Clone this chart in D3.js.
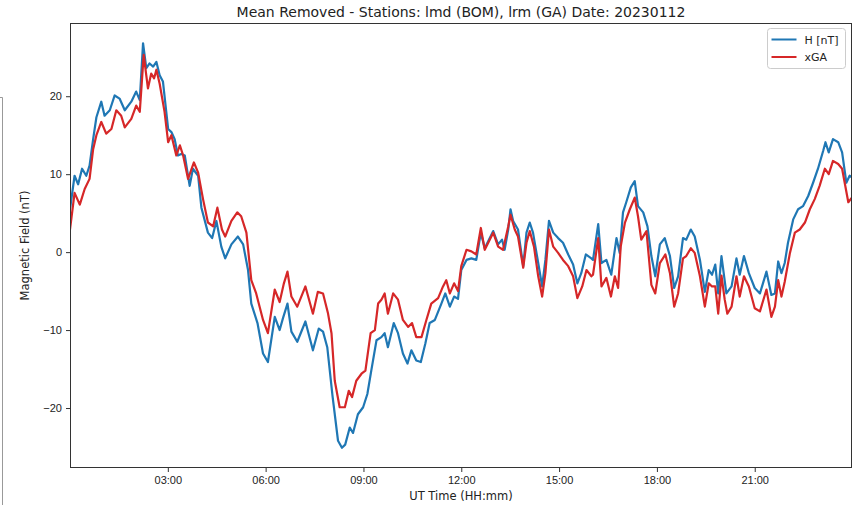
<!DOCTYPE html>
<html>
<head>
<meta charset="utf-8">
<script src="https://cdn.jsdelivr.net/npm/d3@7"></script>
<style>
  body { margin: 0; background: #fff; }
  svg { display: block; font-family: "DejaVu Sans", sans-serif; }
  .axis text { font-size: 11px; fill: #222; }
  .axis path, .axis line { stroke: #333; }
</style>
</head>
<body>
<svg id="chart" width="854" height="505"></svg>
<script>
// hours after 00:00 UT
const hTimes = [0.00, 0.14, 0.25, 0.37, 0.50, 0.60, 0.71, 0.81, 0.96, 1.06, 1.22, 1.37, 1.52, 1.68, 1.88, 2.03, 2.14, 2.24, 2.34, 2.44,
  2.55, 2.65, 2.75, 2.85, 3.01, 3.11, 3.21, 3.31, 3.41, 3.52, 3.67, 3.77, 3.93, 4.03, 4.23, 4.36, 4.49, 4.64, 4.76, 4.95,
  5.15, 5.31, 5.46, 5.56, 5.75, 5.92, 6.07, 6.28, 6.43, 6.53, 6.67, 6.79, 6.97, 7.22, 7.45, 7.63, 7.76, 7.89, 8.05, 8.22,
  8.34, 8.44, 8.58, 8.68, 8.83, 8.99, 9.12, 9.24, 9.40, 9.55, 9.65, 9.75, 9.93, 10.06, 10.21, 10.35, 10.47, 10.62, 10.76, 10.90,
  11.03, 11.19, 11.39, 11.51, 11.65, 11.78, 11.90, 12.00, 12.16, 12.31, 12.46, 12.60, 12.72, 12.98, 13.13, 13.25, 13.33, 13.44, 13.51, 13.59,
  13.74, 13.90, 14.00, 14.10, 14.20, 14.36, 14.48, 14.58, 14.69, 14.82, 14.97, 15.12, 15.28, 15.43, 15.56, 15.68, 15.82, 15.99, 16.04, 16.20,
  16.30, 16.45, 16.60, 16.76, 16.86, 16.96, 17.06, 17.20, 17.32, 17.42, 17.58, 17.71, 17.83, 17.95, 18.09, 18.24, 18.40, 18.53, 18.65, 18.80,
  18.90, 19.04, 19.16, 19.32, 19.47, 19.59, 19.69, 19.79, 19.88, 19.98, 20.13, 20.29, 20.44, 20.54, 20.67, 20.82, 21.00, 21.16, 21.36, 21.51,
  21.62, 21.72, 21.82, 21.92, 22.02, 22.18, 22.33, 22.48, 22.64, 22.79, 22.94, 23.10, 23.17, 23.27, 23.40, 23.56, 23.68, 23.81, 23.91, 23.98];
const hValues = [5.5, 9.8, 8.7, 10.7, 9.8, 11.1, 14.5, 17.3, 19.3, 17.5, 18.2, 20.1, 19.7, 18.2, 19.3, 20.6, 19.5, 26.8, 23.6, 24.2,
  23.8, 24.4, 22.7, 21.9, 15.8, 15.4, 14.5, 12.4, 12.6, 12.4, 8.5, 10.7, 9.8, 5.7, 2.5, 1.8, 4.0, 0.7, -0.8, 1.0,
  2.0, 1.0, -2.3, -6.6, -9.1, -13.0, -14.1, -8.3, -10.0, -8.5, -6.6, -10.2, -11.5, -8.9, -12.6, -9.8, -10.2, -12.2, -18.4, -24.2,
  -25.1, -24.7, -22.5, -23.2, -20.8, -19.9, -18.2, -15.2, -11.3, -10.9, -10.4, -12.2, -9.1, -10.4, -13.0, -14.3, -12.6, -13.9, -14.1, -11.7,
  -9.1, -8.7, -6.6, -5.3, -7.0, -5.7, -6.0, -2.3, -1.0, -0.8, -1.0, 2.5, 0.5, 2.7, 1.0, 1.6, 0.3, 2.9, 5.5, 4.0,
  2.9, -1.8, 2.5, 3.8, 2.5, -1.4, -4.4, -1.0, 4.0, 2.5, 1.8, 1.2, -0.3, -1.6, -4.0, -2.7, -0.3, -0.8, -1.0, 3.6,
  -1.4, -1.0, -2.9, 1.8, -0.1, 5.1, 6.4, 8.3, 9.1, 5.9, 5.1, 3.3, -0.5, -3.1, 1.0, 1.8, -0.5, -4.6, -3.1, 1.8,
  1.6, 2.9, 2.0, -1.0, -5.1, -2.3, -2.9, -1.6, -5.3, -0.5, -5.3, -4.4, -0.8, -2.9, -0.5, -2.7, -4.6, -5.3, -2.5, -5.5,
  -5.3, -1.2, -2.7, -1.4, 1.2, 4.2, 5.5, 5.9, 7.2, 8.9, 10.7, 13.0, 14.1, 12.8, 14.5, 14.1, 12.8, 8.9, 9.8, 9.6];

const gaTimes = [0.00, 0.14, 0.30, 0.45, 0.60, 0.71, 0.81, 0.96, 1.11, 1.27, 1.42, 1.57, 1.68, 1.88, 2.03, 2.14, 2.26, 2.39, 2.49, 2.58,
  2.65, 2.75, 2.90, 3.01, 3.11, 3.26, 3.37, 3.47, 3.62, 3.80, 3.93, 4.08, 4.23, 4.39, 4.52, 4.66, 4.76, 4.95, 5.13, 5.25,
  5.41, 5.56, 5.71, 5.92, 6.07, 6.28, 6.43, 6.56, 6.67, 6.79, 6.97, 7.22, 7.45, 7.60, 7.76, 7.91, 8.02, 8.12, 8.27, 8.43,
  8.55, 8.65, 8.78, 8.94, 9.06, 9.22, 9.35, 9.45, 9.55, 9.65, 9.75, 9.91, 10.06, 10.21, 10.37, 10.49, 10.62, 10.78, 10.93, 11.08,
  11.29, 11.44, 11.54, 11.65, 11.78, 11.90, 12.00, 12.16, 12.31, 12.46, 12.60, 12.72, 12.98, 13.13, 13.28, 13.44, 13.51, 13.64, 13.74, 13.90,
  14.00, 14.10, 14.23, 14.36, 14.48, 14.58, 14.69, 14.82, 14.97, 15.12, 15.28, 15.43, 15.56, 15.71, 15.84, 15.99, 16.04, 16.20, 16.30, 16.45,
  16.59, 16.71, 16.81, 16.89, 17.02, 17.17, 17.32, 17.42, 17.52, 17.68, 17.83, 17.95, 18.09, 18.26, 18.40, 18.53, 18.65, 18.80, 18.90, 19.04,
  19.16, 19.32, 19.47, 19.59, 19.69, 19.79, 19.88, 19.98, 20.08, 20.16, 20.29, 20.44, 20.54, 20.67, 20.82, 21.00, 21.16, 21.36, 21.51, 21.62,
  21.72, 21.82, 21.92, 22.08, 22.23, 22.38, 22.54, 22.69, 22.84, 22.99, 23.15, 23.27, 23.40, 23.56, 23.68, 23.87, 23.98];
const gaValues = [2.9, 7.6, 6.1, 8.1, 9.4, 13.2, 15.0, 16.7, 15.2, 15.8, 18.2, 17.5, 16.0, 17.1, 18.8, 18.0, 25.3, 21.0, 22.9, 22.3,
  23.4, 21.6, 18.0, 14.1, 15.0, 12.4, 13.7, 12.4, 9.4, 11.5, 10.2, 6.8, 3.8, 3.3, 5.7, 2.9, 2.0, 4.0, 5.1, 4.6,
  2.5, -3.6, -5.3, -8.7, -10.4, -4.8, -6.4, -4.0, -2.5, -5.7, -7.0, -4.4, -7.9, -5.1, -5.3, -7.8, -10.4, -16.5, -19.9, -19.9,
  -17.8, -18.6, -16.5, -15.6, -15.2, -10.4, -10.0, -6.6, -6.1, -5.3, -7.9, -5.3, -6.1, -8.7, -9.6, -9.1, -10.9, -10.9, -8.7, -6.6,
  -5.9, -4.4, -3.6, -5.3, -4.0, -5.0, -1.8, 0.3, 0.1, -0.3, 3.1, 0.3, 2.5, 0.7, 0.3, 3.3, 4.8, 2.9, 2.0, -2.0,
  1.2, 2.7, 0.7, -3.1, -5.7, -2.7, 2.9, 0.7, -0.1, -1.0, -1.8, -3.1, -5.9, -4.4, -2.3, -3.1, -2.9, 1.8, -4.4, -3.3,
  -5.7, -3.1, -4.6, 0.7, 3.8, 5.5, 7.0, 4.6, 1.6, 2.7, -4.2, -5.3, -1.4, -0.3, -2.7, -7.0, -5.3, -0.8, -0.5, 0.5,
  -0.1, -3.1, -7.0, -4.0, -4.4, -4.4, -7.9, -3.0, -6.1, -7.9, -7.0, -3.1, -5.7, -3.1, -4.4, -7.2, -7.6, -4.8, -8.3, -7.0,
  -3.6, -5.7, -3.8, -0.1, 2.5, 2.9, 3.8, 5.5, 6.8, 8.5, 10.7, 10.0, 11.7, 11.3, 10.7, 6.4, 7.0];

const seriesNames = ["H [nT]", "xGA"];
const seriesColors = ["#1f77b4", "#d62728"];
const tickHours = [3, 6, 9, 12, 15, 18, 21];

const day0 = Date.UTC(2023, 0, 12);
const toDate = h => new Date(day0 + h * 3600e3);

const svg = d3.select("#chart");
const width = +svg.attr("width");
const height = +svg.attr("height");
const margin = { top: 23, right: 2, bottom: 37, left: 70 };
const contentWidth = width - margin.left - margin.right;
const contentHeight = height - margin.top - margin.bottom;

// stray frame edge on the left of the screenshot
svg.append("path")
  .attr("d", "M0,97.5H2.5V505")
  .attr("fill", "none")
  .attr("stroke", "#999")
  .attr("stroke-width", 1);

const g = svg.append("g").attr("transform", "translate(" + margin.left + "," + margin.top + ")");

const series = [
  hTimes.map((h, i) => ({ t: toDate(h), v: hValues[i] })),
  gaTimes.map((h, i) => ({ t: toDate(h), v: gaValues[i] }))
];

const xScale = d3.scaleUtc()
  .domain([toDate(0), toDate(23 + 59 / 60)])
  .range([0, contentWidth]);

// matplotlib style 5% padding on y
const allV = hValues.concat(gaValues);
const [vmin, vmax] = d3.extent(allV);
const pad = (vmax - vmin) * 0.05;
const yScale = d3.scaleLinear()
  .domain([vmin - pad, vmax + pad])
  .range([contentHeight, 0]);

g.append("defs").append("clipPath").attr("id", "clip")
  .append("rect").attr("width", contentWidth).attr("height", contentHeight);

const line = d3.line()
  .x(d => xScale(d.t))
  .y(d => yScale(d.v));

g.append("g").attr("clip-path", "url(#clip)")
  .selectAll("path")
  .data(series)
  .enter().append("path")
  .attr("d", line)
  .attr("fill", "none")
  .attr("stroke", (d, i) => seriesColors[i])
  .attr("stroke-width", 2.2)
  .attr("stroke-linejoin", "round");

// axes
const xAxis = g.append("g")
  .attr("class", "axis")
  .attr("transform", "translate(0," + contentHeight + ")")
  .call(d3.axisBottom(xScale)
    .tickValues(tickHours.map(toDate))
    .tickFormat(d3.utcFormat("%H:%M"))
    .tickSizeInner(4).tickSizeOuter(0).tickPadding(4));
xAxis.select(".domain").remove();

const yAxis = g.append("g")
  .attr("class", "axis")
  .call(d3.axisLeft(yScale)
    .ticks(6)
    .tickFormat(d => d < 0 ? "\u2212" + Math.abs(d) : d)
    .tickSizeInner(4).tickSizeOuter(0).tickPadding(4));
yAxis.select(".domain").remove();

// frame
g.append("rect")
  .attr("x", 0.5).attr("y", 0.5)
  .attr("width", contentWidth - 1).attr("height", contentHeight - 1)
  .attr("fill", "none")
  .attr("stroke", "#333")
  .attr("stroke-width", 1);

// titles
svg.append("text")
  .attr("x", margin.left + contentWidth / 2)
  .attr("y", 17)
  .attr("text-anchor", "middle")
  .style("font-size", "14px")
  .style("fill", "#222")
  .text("Mean Removed - Stations: lmd (BOM), lrm (GA) Date: 20230112");

svg.append("text")
  .attr("x", margin.left + contentWidth / 2)
  .attr("y", 500)
  .attr("text-anchor", "middle")
  .style("font-size", "11.5px")
  .style("fill", "#222")
  .text("UT Time (HH:mm)");

svg.append("text")
  .attr("transform", "translate(29," + (margin.top + contentHeight / 2) + ") rotate(-90)")
  .attr("text-anchor", "middle")
  .style("font-size", "11.5px")
  .style("fill", "#222")
  .text("Magnetic Field (nT)");

// legend
const legend = svg.append("g").attr("transform", "translate(767.5,28.5)");
legend.append("rect")
  .attr("width", 78).attr("height", 40)
  .attr("rx", 3)
  .attr("fill", "#fff").attr("fill-opacity", 0.8)
  .attr("stroke", "#ccc");
seriesNames.forEach((name, i) => {
  const row = legend.append("g").attr("transform", "translate(0," + (11 + i * 17.5) + ")");
  row.append("line")
    .attr("x1", 4).attr("x2", 29)
    .attr("stroke", seriesColors[i]).attr("stroke-width", 2);
  row.append("text")
    .attr("x", 37).attr("y", 4)
    .style("font-size", "11px")
    .style("fill", "#222")
    .text(name);
});
</script>
</body>
</html>
